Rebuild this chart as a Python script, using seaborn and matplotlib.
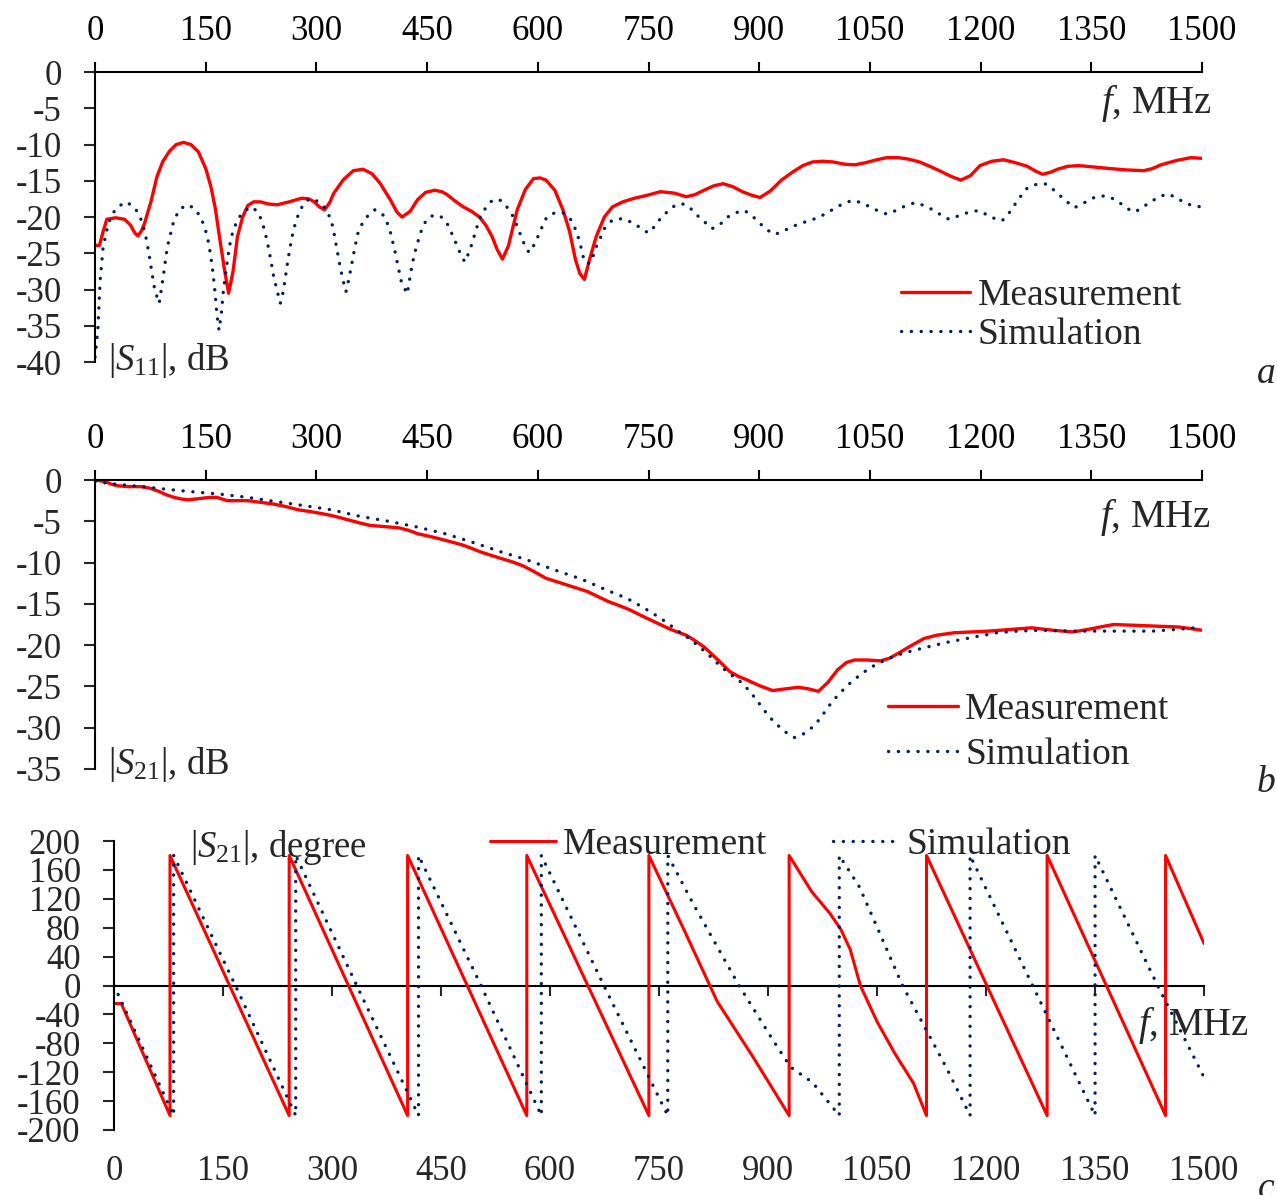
import numpy as np
import pandas as pd
import matplotlib.pyplot as plt
import seaborn as sns

# ---- panel a: |S11|, dB ----
f_a_meas = [0, 6, 11, 16, 28, 40, 48, 54, 58, 63, 67, 76, 84, 92, 101, 110, 120, 130, 140, 150,
            157, 163, 168, 175, 181, 187, 193, 200, 207, 215, 224, 235, 247, 263, 280, 290, 297,
            304, 311, 318, 323, 336, 350, 363, 375, 386, 400, 409, 416, 427, 437, 448, 460, 470,
            477, 488, 499, 510, 521, 530, 538, 545, 552, 560, 566, 572, 583, 594, 603, 611, 623,
            634, 643, 651, 657, 663, 671, 679, 690, 701, 715, 731, 748, 766, 785, 801, 813, 825,
            838, 851, 864, 877, 890, 901, 915, 930, 945, 959, 972, 986, 1000, 1015, 1029, 1044,
            1059, 1073, 1088, 1102, 1117, 1131, 1146, 1160, 1173, 1186, 1199, 1215, 1231, 1247,
            1263, 1275, 1284, 1295, 1304, 1318, 1333, 1354, 1374, 1398, 1421, 1433, 1444, 1465,
            1485, 1500]
s11_meas = [-23.9, -23.9, -22.0, -20.3, -20.1, -20.3, -21.1, -22.2, -22.6, -21.9, -20.9, -17.8,
            -14.4, -12.3, -10.9, -10.0, -9.7, -10.0, -11.0, -13.3, -15.8, -18.8, -22.3, -27.0,
            -30.5, -27.5, -22.7, -20.0, -18.4, -17.9, -17.9, -18.2, -18.3, -17.9, -17.4, -17.5,
            -17.9, -18.6, -19.0, -18.0, -16.8, -14.9, -13.6, -13.4, -14.0, -15.3, -17.6, -19.3,
            -20.0, -19.2, -17.6, -16.6, -16.3, -16.5, -16.9, -17.8, -18.6, -19.2, -20.0, -21.2,
            -22.7, -24.5, -25.8, -24.0, -21.5, -19.0, -16.2, -14.7, -14.6, -14.9, -16.3, -19.0,
            -22.0, -25.9, -27.8, -28.6, -25.5, -22.7, -20.0, -18.6, -17.9, -17.4, -17.0, -16.5,
            -16.7, -17.2, -16.9, -16.3, -15.7, -15.4, -15.8, -16.5, -17.0, -17.3, -16.4, -14.9,
            -13.8, -12.9, -12.4, -12.3, -12.4, -12.7, -12.8, -12.5, -12.1, -11.8, -11.8, -12.0,
            -12.4, -13.0, -13.7, -14.4, -14.9, -14.3, -12.9, -12.3, -12.1, -12.5, -13.0, -13.7,
            -14.1, -13.8, -13.4, -13.0, -12.9, -13.1, -13.3, -13.5, -13.6, -13.3, -12.8, -12.2,
            -11.8, -11.9]

f_a_sim = [0, 2, 4, 7, 11, 18, 24, 31, 42, 53, 60, 65, 69, 73, 77, 81, 87, 93, 98, 107, 115, 125,
           135, 143, 149, 154, 157, 160, 163, 165, 168, 171, 174, 178, 182, 186, 191, 198, 205,
           213, 222, 228, 233, 238, 242, 251, 255, 258, 262, 267, 272, 278, 285, 292, 303, 312,
           320, 324, 328, 332, 336, 340, 344, 348, 352, 356, 362, 368, 379, 386, 393, 400, 407,
           411, 415, 423, 429, 433, 438, 443, 449, 455, 462, 468, 474, 480, 485, 490, 494, 501,
           506, 511, 516, 522, 530, 539, 550, 558, 567, 574, 581, 588, 594, 600, 606, 612, 623,
           634, 645, 651, 656, 660, 663, 670, 675, 679, 685, 690, 701, 715, 731, 740, 750, 758,
           766, 777, 787, 798, 806, 813, 825, 836, 847, 857, 868, 880, 890, 901, 911, 921, 933,
           945, 958, 971, 983, 994, 1005, 1015, 1026, 1038, 1050, 1062, 1073, 1085, 1097, 1111,
           1123, 1135, 1146, 1157, 1168, 1178, 1196, 1205, 1213, 1229, 1238, 1246, 1255, 1263,
           1275, 1287, 1297, 1307, 1317, 1327, 1339, 1351, 1361, 1371, 1382, 1392, 1400, 1409,
           1420, 1430, 1442, 1453, 1465, 1477, 1490, 1500]
s11_sim = [-39.3, -37.5, -35.2, -28.7, -24.1, -20.9, -19.5, -18.6, -17.9, -18.6, -19.7, -21.1,
           -22.8, -25.0, -27.6, -30.1, -31.9, -27.8, -24.1, -20.4, -18.9, -18.3, -18.8, -20.0,
           -21.5, -23.6, -25.5, -27.8, -30.8, -33.3, -35.6, -33.5, -30.1, -27.0, -24.1, -22.3,
           -20.9, -19.6, -19.0, -18.6, -19.5, -21.2, -23.2, -25.8, -28.2, -31.9, -30.3, -28.2,
           -25.5, -22.7, -20.6, -19.0, -17.9, -17.4, -17.9, -18.8, -20.4, -22.3, -24.6, -26.8,
           -28.7, -30.3, -28.5, -26.4, -24.2, -22.3, -20.9, -20.0, -19.0, -19.3, -20.0, -22.0,
           -25.0, -27.0, -28.9, -30.6, -26.9, -25.0, -23.2, -21.6, -20.4, -19.9, -19.7, -19.9,
           -20.4, -21.4, -22.7, -23.8, -24.8, -26.2, -25.0, -23.6, -21.8, -20.0, -18.6, -17.6,
           -17.7, -18.6, -20.0, -21.8, -23.6, -24.9, -24.0, -22.7, -21.3, -20.0, -19.4, -19.4,
           -20.4, -21.7, -23.2, -24.8, -26.2, -26.4, -25.3, -24.1, -22.8, -21.6, -20.4, -20.2,
           -20.9, -21.6, -22.2, -21.3, -20.2, -19.1, -18.3, -18.2, -18.7, -19.5, -20.6, -21.6,
           -21.0, -20.0, -19.4, -19.1, -19.8, -20.9, -21.8, -22.4, -21.9, -21.3, -20.8, -20.4,
           -19.9, -19.3, -18.6, -18.1, -17.7, -18.0, -18.6, -19.2, -19.6, -19.1, -18.5, -18.0,
           -18.4, -19.0, -19.7, -20.3, -19.9, -19.5, -19.1, -19.5, -20.0, -20.5, -19.5, -18.3,
           -17.0, -16.0, -15.5, -15.4, -16.1, -17.0, -17.9, -18.7, -18.1, -17.4, -17.1, -17.1,
           -17.6, -18.3, -18.9, -19.3, -18.6, -17.9, -17.2, -16.8, -17.3, -18.1, -18.5, -18.6]

# ---- panel b: |S21|, dB ----
f_b_meas = [0, 14, 22, 31, 45, 62, 75, 87, 97, 107, 117, 126, 136, 146, 155, 165, 172, 179, 193,
            207, 224, 241, 258, 275, 290, 303, 315, 325, 342, 359, 373, 387, 400, 412, 425, 437,
            452, 466, 483, 499, 511, 522, 536, 550, 565, 580, 595, 611, 625, 639, 653, 667, 681,
            695, 710, 724, 742, 761, 780, 801, 812, 825, 843, 860, 872, 883, 900, 918, 935, 953,
            967, 980, 993, 1006, 1018, 1029, 1046, 1064, 1076, 1088, 1105, 1123, 1140, 1164, 1188,
            1211, 1240, 1269, 1298, 1325, 1345, 1362, 1380, 1410, 1438, 1468, 1485, 1500]
s21_meas = [0.0, -0.2, -0.5, -0.7, -0.8, -0.8, -1.0, -1.4, -1.8, -2.1, -2.3, -2.4, -2.3, -2.2,
            -2.1, -2.1, -2.3, -2.5, -2.5, -2.5, -2.7, -2.9, -3.2, -3.6, -3.8, -4.0, -4.2, -4.4,
            -4.8, -5.2, -5.5, -5.6, -5.7, -5.8, -6.1, -6.5, -6.8, -7.1, -7.5, -7.9, -8.3, -8.7,
            -9.1, -9.5, -9.9, -10.4, -11.1, -11.9, -12.3, -12.7, -13.1, -13.5, -14.1, -14.7,
            -15.2, -15.7, -16.5, -17.3, -18.1, -18.8, -19.4, -20.2, -21.7, -23.2, -23.8, -24.2,
            -24.9, -25.5, -25.3, -25.1, -25.3, -25.6, -24.5, -23.0, -22.1, -21.8, -21.8, -21.9,
            -21.6, -21.0, -20.1, -19.2, -18.8, -18.5, -18.4, -18.3, -18.1, -17.9, -18.2, -18.4,
            -18.1, -17.8, -17.5, -17.6, -17.7, -17.8, -18.0, -18.2]

f_b_sim = [0, 28, 65, 95, 129, 168, 207, 244, 283, 320, 359, 398, 437, 474, 510, 550, 583, 623,
           659, 695, 720, 738, 755, 772, 790, 805, 819, 834, 848, 862, 877, 889, 901, 911, 921,
           935, 948, 961, 974, 984, 994, 1008, 1023, 1038, 1053, 1073, 1094, 1111, 1129, 1152,
           1175, 1198, 1222, 1250, 1281, 1320, 1357, 1395, 1433, 1465, 1491, 1500]
s21_sim = [-0.2, -0.5, -0.8, -1.1, -1.4, -1.7, -2.1, -2.6, -3.1, -3.6, -4.4, -5.0, -5.7, -6.5,
           -7.5, -8.7, -9.6, -10.9, -12.0, -13.4, -14.3, -15.2, -16.1, -17.1, -18.3, -19.2, -20.2,
           -21.4, -22.6, -23.6, -24.6, -25.8, -27.2, -28.4, -29.4, -30.5, -31.2, -30.7, -29.8,
           -28.7, -27.4, -25.9, -24.6, -23.5, -22.6, -21.7, -21.0, -20.6, -20.2, -19.7, -19.3,
           -18.9, -18.5, -18.3, -18.2, -18.3, -18.3, -18.3, -18.3, -18.1, -17.9, -18.1]

# ---- panel c: phase of S21, degree ----
f_c_meas = [0, 10, 77, 77, 241, 241, 404, 404, 568, 568, 736, 736, 783, 830, 880, 929, 929, 960,
            985, 1000, 1013, 1027, 1050, 1075, 1100, 1118, 1118, 1284, 1284, 1447, 1447, 1500]
ph_meas = [-25, -25, -180, 180, -180, 180, -180, 180, -180, 180, -180, 180, 80, -22, -100, -180,
           180, 130, 100, 78, 50, 0, -50, -95, -135, -180, 180, -180, 180, -180, 180, 58]

f_c_sim = [0, 82, 82, 167, 250, 250, 334, 419, 419, 505, 588, 588, 674, 762, 762, 797, 860, 907,
           931, 961, 998, 998, 1026, 1085, 1145, 1178, 1178, 1264, 1350, 1350, 1436, 1500]
ph_sim = [0, -180, 180, 0, -180, 180, 0, -180, 180, 0, -180, 180, 0, -180, 180, 113, 0, -76,
          -113, -134, -180, 180, 136, 0, -113, -180, 180, 0, -180, 180, 0, -127]

freq_ticks = list(range(0, 1501, 150))

RED = "#FF0000"
NAVY = "#002060"
DOT = (0, (0.05, 2.9))
FS = 25        # tick labels
FS_LEG = 27    # legend entries
FS_LAB = 26.5  # |S| labels
FS_F = 28      # f, MHz

sns.set_style("ticks")
plt.rcParams['font.family'] = ['Liberation Serif', 'DejaVu Serif']
plt.rcParams['mathtext.fontset'] = 'custom'
plt.rcParams['mathtext.rm'] = 'Liberation Serif'
plt.rcParams['mathtext.it'] = 'Liberation Serif:italic'
plt.rcParams['axes.unicode_minus'] = False
plt.rcParams['font.size'] = FS


def draw_pair(ax, f_m, v_m, f_s, v_s, lw=2.4):
    sns.lineplot(x=f_m, y=v_m, ax=ax, color=RED, lw=lw, estimator=None, sort=False,
                 label="Measurement")
    sns.lineplot(x=f_s, y=v_s, ax=ax, color=NAVY, lw=2.4, linestyle=DOT,
                 dash_capstyle='round', estimator=None, sort=False, label="Simulation")
    ax.set_xlabel('')
    ax.set_ylabel('')
    ax.set_xlim(0, 1500)
    ax.set_xticks(freq_ticks)


def style_top_panel(ax, ylo):
    ax.set_ylim(ylo, 0)
    ax.set_yticks(list(range(ylo, 1, 5)))
    ax.xaxis.tick_top()
    ax.tick_params(axis='x', top=True, bottom=False, direction='out', length=7.5,
                   width=1.5, pad=10, labelsize=FS, colors='black')
    ax.tick_params(axis='y', direction='out', length=8, width=1.5, pad=16, labelsize=FS)
    for s in ['right', 'bottom']:
        ax.spines[s].set_visible(False)
    for s in ['top', 'left']:
        ax.spines[s].set_linewidth(1.5)
        ax.spines[s].set_color('black')


fig = plt.figure(figsize=(12.77, 11.95), dpi=100)
ax_a = fig.add_axes([0.0744, 0.697, 0.867, 0.2427])
ax_b = fig.add_axes([0.0744, 0.3565, 0.867, 0.2418])
ax_c = fig.add_axes([0.0893, 0.0544, 0.8536, 0.2418])

# panel a
draw_pair(ax_a, f_a_meas, s11_meas, f_a_sim, s11_sim)
style_top_panel(ax_a, -40)
ax_a.legend(loc='center left', bbox_to_anchor=(0.728, 0.162), frameon=False, fontsize=FS_LEG,
            handlelength=1.85, handletextpad=0.19, labelspacing=0.12, borderpad=0,
            borderaxespad=0)
ax_a.text(1.009, 0.893, r"$\mathit{f}$, MHz", transform=ax_a.transAxes, ha='right',
          va='center', fontsize=FS_F)
ax_a.text(0.0115, 0.007, r"|$\mathit{S}_{\mathrm{11}}$|, dB", transform=ax_a.transAxes,
          ha='left', va='center', fontsize=FS_LAB)

# panel b
draw_pair(ax_b, f_b_meas, s21_meas, f_b_sim, s21_sim)
style_top_panel(ax_b, -35)
ax_b.legend(loc='center left', bbox_to_anchor=(0.716, 0.128), frameon=False, fontsize=FS_LEG,
            handlelength=1.87, handletextpad=0.2, labelspacing=0.28, borderpad=0,
            borderaxespad=0)
ax_b.text(1.008, 0.872, r"$\mathit{f}$, MHz", transform=ax_b.transAxes, ha='right',
          va='center', fontsize=FS_F)
ax_b.text(0.0115, 0.017, r"|$\mathit{S}_{\mathrm{21}}$|, dB", transform=ax_b.transAxes,
          ha='left', va='center', fontsize=FS_LAB)

# panel c
draw_pair(ax_c, f_c_meas, ph_meas, f_c_sim, ph_sim, lw=2.2)
ax_c.set_ylim(-200, 200)
ax_c.set_yticks(list(range(-200, 201, 40)))
ax_c.tick_params(axis='x', bottom=True, top=False, length=0, pad=18, labelsize=FS)
ax_c.tick_params(axis='y', direction='out', length=8, width=1.5, pad=16, labelsize=FS)
for s in ['right', 'bottom', 'top']:
    ax_c.spines[s].set_visible(False)
ax_c.spines['left'].set_linewidth(1.5)
ax_c.spines['left'].set_color('black')

zero_axis = ax_c.secondary_xaxis(0, transform=ax_c.transData)
zero_axis.set_xticks(freq_ticks)
zero_axis.tick_params(axis='x', direction='out', length=7.5, width=1.5, labelbottom=False)
zero_axis.spines['bottom'].set_linewidth(1.5)
zero_axis.spines['bottom'].set_color('black')

ax_c.legend(loc='center left', bbox_to_anchor=(0.345, 0.986), ncol=2, frameon=False,
            fontsize=FS_LEG, handlelength=1.76, handletextpad=0.19, columnspacing=1.76,
            borderpad=0, borderaxespad=0)
ax_c.text(1.041, 0.36, r"$\mathit{f}$, MHz", transform=ax_c.transAxes, ha='right',
          va='center', fontsize=FS_F)
ax_c.text(0.0697, 0.976, r"|$\mathit{S}_{\mathrm{21}}$|, degree", transform=ax_c.transAxes,
          ha='left', va='center', fontsize=FS_LAB)

# panel letters
fig.text(0.9914, 0.6795, "a", ha='center', va='baseline', fontsize=FS_LEG, style='italic')
fig.text(0.9914, 0.3372, "b", ha='center', va='baseline', fontsize=FS_LEG, style='italic')
fig.text(0.9914, -0.0025, "c", ha='center', va='baseline', fontsize=FS_LEG, style='italic')

fig.savefig("out.png", dpi=100)
